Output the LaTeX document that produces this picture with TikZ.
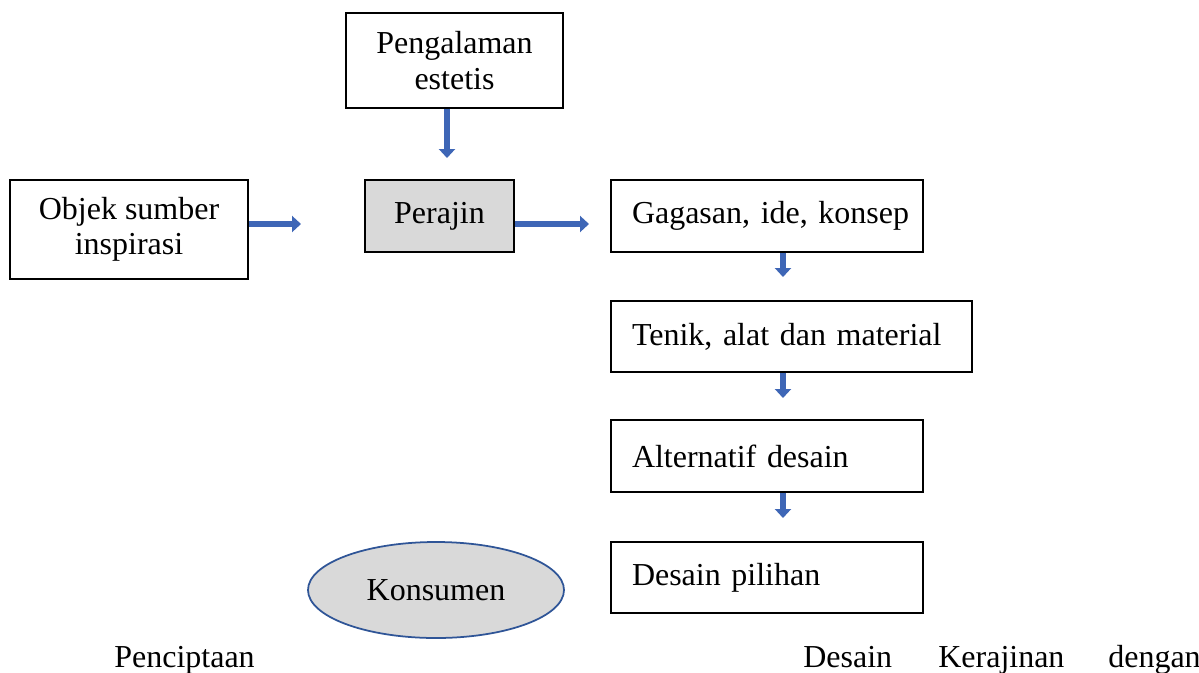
\documentclass[tikz,border=0pt]{standalone}
\usepackage{fontspec}
\setmainfont{Liberation Serif}
\usetikzlibrary{shapes.geometric,arrows.meta}
\definecolor{arrblue}{RGB}{62,102,182}
\definecolor{ovaledge}{RGB}{47,85,151}
\definecolor{boxgray}{RGB}{217,217,217}
\tikzset{
  txt/.style={font=\fontsize{18.2}{20}\selectfont},
  box/.style={txt,draw,line width=1.1pt,inner sep=0pt,align=center},
  stepbox/.style={txt,draw,line width=1.1pt,inner ysep=0pt,inner xsep=0.42cm,
    align=left,text width=#1},
  blockarr/.style={arrblue,line width=0.13cm,-{Triangle[width=0.32cm,length=0.18cm]}}
}
\begin{document}
\begin{tikzpicture}
\useasboundingbox (0,0) rectangle (23.98,-13.44);

\node[box,minimum width=4.34cm,minimum height=1.90cm] (pengal) at (9.09,-1.21) {Pengalaman\\estetis};
\node[box,minimum width=4.76cm,minimum height=1.98cm] (objek) at (2.58,-4.59) {Objek sumber\\inspirasi};
\node[box,fill=boxgray,minimum width=2.98cm,minimum height=1.44cm] (perajin) at (8.79,-4.32) {Perajin};

\node[stepbox=5.40cm,minimum height=1.44cm] (gagasan) at (15.34,-4.32) {\mbox{Gagasan, ide, konsep}};
\node[stepbox=6.38cm,minimum height=1.42cm] (tenik) at (15.83,-6.73) {\mbox{Tenik, alat dan material}};
\node[stepbox=5.40cm,minimum height=1.44cm] (alt) at (15.34,-9.12) {\mbox{Alternatif desain}};
\node[stepbox=5.40cm,minimum height=1.42cm] (desain) at (15.34,-11.55) {\mbox{Desain pilihan}};

\node[txt,ellipse,draw=ovaledge,line width=1pt,fill=boxgray,inner sep=0pt,
  minimum width=5.12cm,minimum height=1.92cm] (konsumen) at (8.72,-11.80) {Konsumen};

% free ends of the arrows
\coordinate (pengend) at (8.94,-3.16);
\coordinate (objekend) at (6.02,-4.48);
\coordinate (perajinend) at (11.78,-4.48);
\coordinate (gagend) at (15.66,-5.54);
\coordinate (tenend) at (15.66,-7.96);
\coordinate (altend) at (15.66,-10.36);

\draw[blockarr] (pengal.south -| pengend) -- (pengend);
\draw[blockarr] (objek.east |- objekend) -- (objekend);
\draw[blockarr] (perajin.east |- perajinend) -- (perajinend);
\draw[blockarr] (gagasan.south -| gagend) -- (gagend);
\draw[blockarr] (tenik.south -| tenend) -- (tenend);
\draw[blockarr] (alt.south -| altend) -- (altend);

\node[txt,anchor=base west,inner sep=0pt] (pencip) at (2.28,-13.34) {Penciptaan};
\node[txt,anchor=base west,inner sep=0pt] (wdesain) at (16.06,-13.34) {Desain};
\node[txt,anchor=base west,inner sep=0pt] (wkerajinan) at (18.76,-13.34) {Kerajinan};
\node[txt,anchor=base west,inner sep=0pt] (wdengan) at (22.16,-13.34) {dengan};
\end{tikzpicture}
\end{document}
